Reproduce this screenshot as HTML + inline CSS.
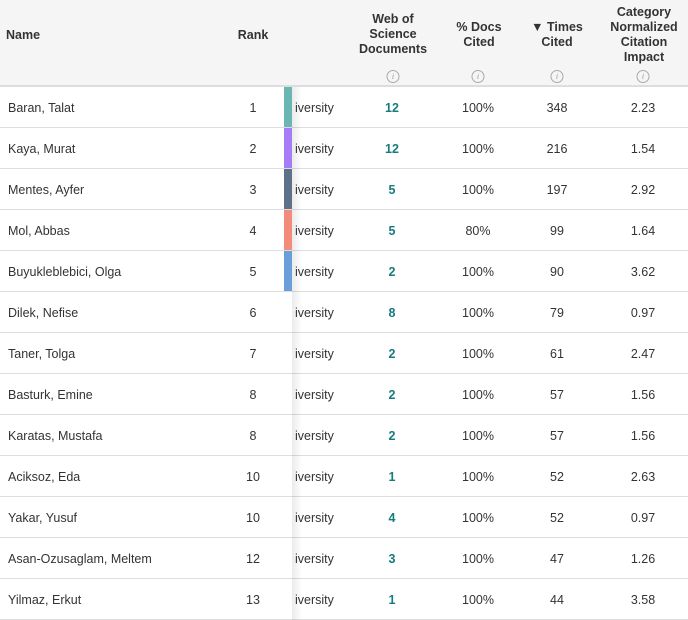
<!DOCTYPE html>
<html><head><style>
body{margin:0;width:688px;height:620px;overflow:hidden;background:#fff;font-family:"Liberation Sans",sans-serif;color:#333;position:relative}
.hdr{position:absolute;left:0;top:0;width:688px;height:87px;background:#f5f5f5;border-bottom:2px solid #ddd;box-sizing:border-box}
.h{position:absolute;font-weight:bold;font-size:12.5px;color:#333;text-align:center;line-height:15px;transform:translateX(-50%);white-space:nowrap}
.i{position:absolute;top:70px;width:11px;height:11px;border:1px solid #aaa;border-radius:50%;font-size:8px;color:#999;text-align:center;line-height:11px;font-style:italic;transform:translateX(-50%);font-family:"Liberation Serif",serif}
.row{position:absolute;left:0;width:688px;height:41px;border-bottom:1px solid #ddd;box-sizing:border-box;font-size:12.5px}
.row span{position:absolute;top:14px}
.c{transform:translateX(-50%)}
.bar{position:absolute;left:284px;width:8px;top:0;height:40px}
.shadow{position:absolute;left:292px;top:87px;width:10px;height:533px;background:linear-gradient(to right,rgba(0,0,0,0.08),rgba(0,0,0,0))}
.w{color:#167d7f;font-weight:bold}
</style></head><body>
<div class="hdr">
<div class="h" style="left:6px;top:28px;transform:none">Name</div>
<div class="h" style="left:253px;top:28px">Rank</div>
<div class="h" style="left:393px;top:12px">Web of<br>Science<br>Documents</div>
<div class="h" style="left:479px;top:20px">% Docs<br>Cited</div>
<div class="h" style="left:557px;top:20px">▼ Times<br>Cited</div>
<div class="h" style="left:644px;top:5px">Category<br>Normalized<br>Citation<br>Impact</div>
<div class="i" style="left:393px">i</div><div class="i" style="left:478px">i</div><div class="i" style="left:557px">i</div><div class="i" style="left:643px">i</div>
</div>
<div id="rows"></div>
<div class="shadow"></div>
<script>
var d=[["Baran, Talat",1,12,"100%",348,"2.23","#6bb6b2"],["Kaya, Murat",2,12,"100%",216,"1.54","#a87cf7"],["Mentes, Ayfer",3,5,"100%",197,"2.92","#5f7189"],["Mol, Abbas",4,5,"80%",99,"1.64","#f28b7a"],["Buyukleblebici, Olga",5,2,"100%",90,"3.62","#6a9fd8"],["Dilek, Nefise",6,8,"100%",79,"0.97"],["Taner, Tolga",7,2,"100%",61,"2.47"],["Basturk, Emine",8,2,"100%",57,"1.56"],["Karatas, Mustafa",8,2,"100%",57,"1.56"],["Aciksoz, Eda",10,1,"100%",52,"2.63"],["Yakar, Yusuf",10,4,"100%",52,"0.97"],["Asan-Ozusaglam, Meltem",12,3,"100%",47,"1.26"],["Yilmaz, Erkut",13,1,"100%",44,"3.58"]];
var h="";d.forEach(function(r,k){h+='<div class="row" style="top:'+(87+k*41)+'px">'+(r[6]?'<div class="bar" style="background:'+r[6]+'"></div>':'')+'<span style="left:8px">'+r[0]+'</span><span class="c" style="left:253px">'+r[1]+'</span><span style="left:295px">iversity</span><span class="c w" style="left:392px">'+r[2]+'</span><span class="c" style="left:478px">'+r[3]+'</span><span class="c" style="left:557px">'+r[4]+'</span><span class="c" style="left:643px">'+r[5]+'</span></div>'});
document.getElementById("rows").innerHTML=h;
</script>
</body></html>
